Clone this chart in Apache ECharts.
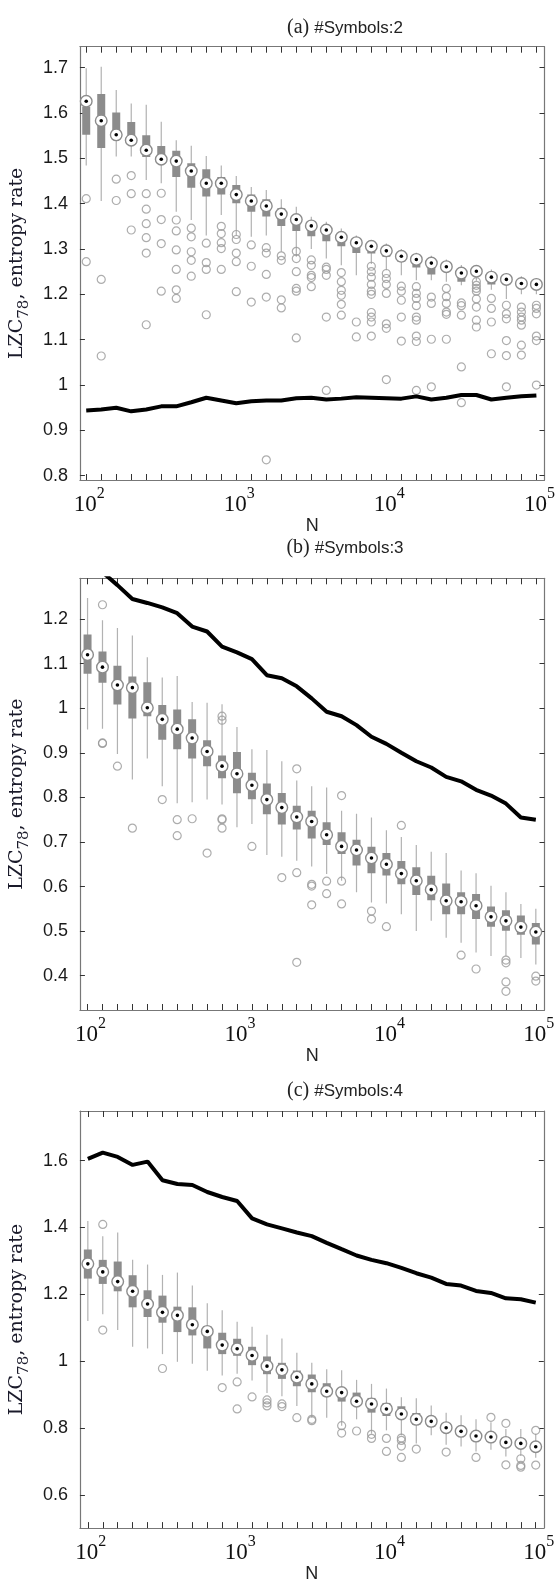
<!DOCTYPE html>
<html><head><meta charset="utf-8">
<script src="https://cdn.jsdelivr.net/npm/echarts@6/dist/echarts.min.js"></script>
<style>html,body{margin:0;padding:0;background:#fff}#c{width:558px;height:1584px}</style>
</head><body><div id="c"></div>
<script>
// x positions: log10(N)
const logN = [2.0,2.1,2.2,2.3,2.4,2.5,2.6,2.7,2.8,2.9,3.0,3.1,3.2,3.3,3.4,3.5,3.6,3.7,3.8,3.9,4.0,4.1,4.2,4.3,4.4,4.5,4.6,4.7,4.8,4.9,5.0];
const xLabelVals = [2,3,4,5];

// ---- panel (a) #Symbols:2 ----
const aMed  = [1.626,1.583,1.552,1.540,1.518,1.498,1.494,1.472,1.445,1.445,1.420,1.406,1.395,1.377,1.365,1.351,1.342,1.326,1.314,1.306,1.296,1.284,1.277,1.269,1.261,1.247,1.251,1.238,1.233,1.224,1.222];
const aQ3   = [1.614,1.642,1.601,1.580,1.551,1.527,1.517,1.489,1.476,1.459,1.441,1.420,1.410,1.390,1.375,1.360,1.350,1.335,1.320,1.310,1.300,1.290,1.280,1.275,1.265,1.255,1.260,1.245,1.240,1.232,1.230];
const aQ1   = [1.552,1.523,1.545,1.535,1.503,1.490,1.459,1.435,1.416,1.420,1.401,1.382,1.372,1.351,1.340,1.328,1.317,1.306,1.291,1.290,1.283,1.272,1.259,1.244,1.252,1.228,1.240,1.222,1.222,1.215,1.212];
const aHigh = [1.699,1.702,1.651,1.621,1.618,1.581,1.540,1.528,1.505,1.484,1.461,1.437,1.430,1.410,1.393,1.371,1.360,1.345,1.330,1.320,1.312,1.300,1.292,1.285,1.277,1.265,1.265,1.255,1.245,1.240,1.235];
const aLow  = [1.484,1.406,1.504,1.504,1.452,1.445,1.382,1.364,1.330,1.375,1.330,1.327,1.330,1.294,1.283,1.300,1.279,1.264,1.242,1.267,1.253,1.242,1.231,1.231,1.228,1.220,1.230,1.210,1.190,1.200,1.200];
const aLine = [0.944,0.946,0.950,0.942,0.946,0.953,0.953,0.962,0.972,0.966,0.960,0.964,0.966,0.966,0.971,0.972,0.968,0.970,0.973,0.972,0.971,0.970,0.975,0.968,0.972,0.978,0.978,0.968,0.972,0.975,0.977];
const aOut  = [[1.411,1.272],[1.233,1.064],[1.454,1.407],[1.462,1.422,1.342],[1.422,1.388,1.356,1.325,1.291,1.133],[1.423,1.365,1.312,1.207],[1.364,1.340,1.298,1.255,1.210,1.191],[1.346,1.327,1.294,1.275,1.240],[1.313,1.270,1.255,1.155],[1.350,1.334,1.314,1.301,1.255],[1.332,1.321,1.291,1.272,1.206],[1.309,1.262,1.183],[1.303,1.291,1.244,1.194,0.835],[1.285,1.275,1.188,1.170],[1.295,1.279,1.250,1.213,1.207,1.104],[1.276,1.264,1.242,1.237,1.217],[1.260,1.255,1.242,1.150,0.988],[1.248,1.228,1.209,1.198,1.178,1.154],[1.139,1.106],[1.262,1.250,1.238,1.222,1.207,1.200,1.160,1.150,1.139,1.108],[1.246,1.235,1.222,1.202,1.135,1.125,1.012],[1.218,1.207,1.187,1.150,1.097],[1.217,1.202,1.191,1.175,1.150,1.143,1.108,1.096,0.988],[1.194,1.180,1.101,0.996],[1.213,1.195,1.180,1.161,1.156,1.101],[1.181,1.175,1.154,1.040,0.961],[1.228,1.220,1.213,1.207,1.190,1.172,1.143,1.128],[1.191,1.169,1.139,1.069],[1.176,1.157,1.146,1.098,1.065,0.996],[1.172,1.161,1.150,1.143,1.132,1.088,1.066],[1.176,1.169,1.157,1.108,1.098,1.000]];
const aTicks = [0.8,0.9,1.0,1.1,1.2,1.3,1.4,1.5,1.6,1.7];

// ---- panel (b) #Symbols:3 ----
const bMed  = [1.120,1.092,1.052,1.046,1.001,0.975,0.953,0.933,0.903,0.870,0.853,0.827,0.795,0.777,0.756,0.746,0.716,0.690,0.682,0.664,0.650,0.629,0.613,0.593,0.568,0.566,0.557,0.532,0.523,0.509,0.498];
const bQ3   = [1.165,1.127,1.095,1.071,1.058,1.007,0.997,0.975,0.928,0.894,0.902,0.855,0.831,0.810,0.781,0.770,0.744,0.722,0.705,0.689,0.675,0.657,0.643,0.624,0.607,0.587,0.583,0.555,0.547,0.535,0.518];
const bQ1   = [1.077,1.057,1.008,0.977,0.982,0.929,0.908,0.887,0.870,0.843,0.809,0.796,0.762,0.739,0.728,0.708,0.693,0.673,0.647,0.630,0.625,0.605,0.581,0.569,0.538,0.538,0.527,0.510,0.501,0.492,0.470];
const bHigh = [1.247,1.197,1.180,1.163,1.114,1.069,1.072,1.014,1.012,1.009,0.958,0.908,0.906,0.881,0.838,0.825,0.822,0.770,0.763,0.755,0.726,0.711,0.693,0.678,0.675,0.636,0.630,0.602,0.587,0.561,0.550];
const bLow  = [0.952,0.954,0.897,0.840,0.887,0.825,0.787,0.789,0.795,0.784,0.733,0.740,0.671,0.667,0.658,0.645,0.628,0.613,0.587,0.564,0.562,0.538,0.500,0.523,0.485,0.474,0.452,0.444,0.444,0.440,0.425];
const bLine = [1.335,1.305,1.276,1.245,1.236,1.226,1.213,1.183,1.172,1.138,1.125,1.110,1.074,1.067,1.049,1.022,0.992,0.982,0.962,0.936,0.920,0.900,0.881,0.867,0.846,0.836,0.817,0.804,0.786,0.755,0.750];
const bOut  = [[],[1.232,0.922,0.921],[0.870],[0.731],[],[0.795],[0.750,0.714],[0.752],[0.675],[0.982,0.973,0.752,0.750,0.731],[],[0.690],[],[0.620],[0.864,0.631,0.430],[0.605,0.601,0.559],[0.612,0.584],[0.804,0.612,0.561],[],[0.545,0.527],[0.510],[0.737],[],[],[],[0.446],[0.415],[],[0.435,0.429,0.386,0.365],[],[0.399,0.388]];
const bTicks = [0.4,0.5,0.6,0.7,0.8,0.9,1.0,1.1,1.2];

// ---- panel (c) #Symbols:4 ----
const cMed  = [1.291,1.267,1.238,1.209,1.171,1.146,1.137,1.109,1.089,1.048,1.037,1.017,0.985,0.974,0.952,0.932,0.910,0.906,0.880,0.872,0.857,0.842,0.826,0.820,0.801,0.790,0.776,0.773,0.757,0.754,0.744];
const cQ3   = [1.334,1.303,1.298,1.257,1.212,1.196,1.163,1.161,1.105,1.085,1.067,1.043,1.014,0.995,0.972,0.960,0.934,0.918,0.906,0.890,0.875,0.865,0.845,0.836,0.812,0.800,0.786,0.783,0.766,0.762,0.752];
const cQ1   = [1.247,1.231,1.209,1.161,1.132,1.115,1.087,1.077,1.038,1.021,1.016,0.988,0.961,0.947,0.925,0.907,0.894,0.879,0.866,0.846,0.836,0.830,0.809,0.803,0.792,0.782,0.768,0.765,0.750,0.747,0.737];
const cHigh = [1.419,1.374,1.385,1.303,1.289,1.258,1.265,1.226,1.173,1.152,1.118,1.103,1.079,1.068,1.025,0.995,0.976,0.973,0.944,0.932,0.918,0.892,0.889,0.867,0.846,0.838,0.826,0.817,0.797,0.797,0.783];
const cLow  = [1.120,1.140,1.093,1.043,1.038,1.021,0.998,0.992,0.971,0.957,0.962,0.942,0.905,0.895,0.866,0.831,0.831,0.807,0.826,0.783,0.793,0.778,0.754,0.778,0.750,0.745,0.730,0.735,0.715,0.716,0.711];
const cLine = [1.605,1.624,1.611,1.587,1.597,1.541,1.530,1.527,1.506,1.491,1.479,1.427,1.409,1.397,1.385,1.374,1.354,1.335,1.316,1.303,1.293,1.279,1.263,1.250,1.231,1.226,1.210,1.204,1.188,1.185,1.175];
const cOut  = [[],[1.409,1.093],[],[],[],[0.978],[],[],[],[0.921],[0.938,0.857],[0.893],[0.884,0.875,0.866],[0.872,0.864],[0.831],[0.826,0.822],[],[0.807,0.785],[0.791],[0.781,0.769],[0.769,0.730],[0.770,0.763,0.746,0.712],[0.737],[],[0.728],[],[0.712],[0.832],[0.814,0.690],[0.708,0.688,0.683],[0.793,0.689]];
const cTicks = [0.6,0.8,1.0,1.2,1.4,1.6];

const titles = [['(a)','#Symbols:2'],['(b)','#Symbols:3'],['(c)','#Symbols:4']];

// ---- layout (pixels) ----
const layout = [
  {grid:{left:71.2,right:13.5,top:46.7,height:433.3}, x:[1.958,5.054], y:[0.7905,1.7463], titleTop:13},
  {grid:{left:68.7,right:13.5,top:578.3,height:431.7}, x:[1.949,5.058], y:[0.3231,1.2913], titleTop:533},
  {grid:{left:67.6,right:14.2,top:1111,height:431.7}, x:[1.947,5.054], y:[0.5006,1.7483], titleTop:1076}
];
const panels = [
  {med:aMed,q1:aQ1,q3:aQ3,low:aLow,high:aHigh,line:aLine,out:aOut,ticks:aTicks},
  {med:bMed,q1:bQ1,q3:bQ3,low:bLow,high:bHigh,line:bLine,out:bOut,ticks:bTicks},
  {med:cMed,q1:cQ1,q3:cQ3,low:cLow,high:cHigh,line:cLine,out:cOut,ticks:cTicks}
];

const SANS = "'Liberation Sans Narrow','Liberation Sans',Arial,sans-serif";
const SERIF = "'Liberation Serif','DejaVu Serif',serif";
const FRAME = '#777';
const TICK = '#333';

function renderBox(params, api){
  const x = api.value(0);
  const pLow = api.coord([x, api.value(1)]);
  const pQ1 = api.coord([x, api.value(2)]);
  const pMed = api.coord([x, api.value(3)]);
  const pQ3 = api.coord([x, api.value(4)]);
  const pHigh = api.coord([x, api.value(5)]);
  const w = 8;
  return {type:'group', children:[
    {type:'line', shape:{x1:pLow[0],y1:pLow[1],x2:pHigh[0],y2:pHigh[1]}, style:{stroke:'#b2b2b2', lineWidth:1.2}},
    {type:'rect', shape:{x:pQ3[0]-w/2, y:pQ3[1], width:w, height:pQ1[1]-pQ3[1]}, style:{fill:'#8c8c8c'}},
    {type:'circle', shape:{cx:pMed[0], cy:pMed[1], r:5.8}, style:{fill:'#fff', stroke:'#8c8c8c', lineWidth:1.4}},
    {type:'circle', shape:{cx:pMed[0], cy:pMed[1], r:1.8}, style:{fill:'#000'}}
  ]};
}

const option = {animation:false, backgroundColor:'#fff', title:[], grid:[], xAxis:[], yAxis:[], series:[]};

panels.forEach((p, gi) => {
  const L = layout[gi];
  option.grid.push(Object.assign({containLabel:false}, L.grid));
  option.title.push({
    text:'{p|' + titles[gi][0] + '} {t|' + titles[gi][1] + '}',
    left: 340, top: L.titleTop, textAlign:'center',
    textStyle:{fontWeight:'normal', rich:{
      p:{fontFamily:SERIF, fontSize:20, color:'#222', fontWeight:'normal'},
      t:{fontFamily:"'Liberation Sans',Arial,sans-serif", fontSize:17, color:'#222', fontWeight:'normal'}
    }}
  });
  // bottom x axis
  option.xAxis.push({
    type:'value', gridIndex:gi, position:'bottom', min:L.x[0], max:L.x[1],
    axisLine:{show:true, onZero:false, lineStyle:{color:FRAME, width:1.2}},
    axisTick:{show:true, inside:true, length:6, customValues:logN, lineStyle:{color:TICK, width:1}},
    splitLine:{show:false},
    axisLabel:{show:true, margin:6, customValues:xLabelVals,
      formatter: v => '{sp| }{b|10}{s|' + Math.round(v) + '}',
      rich:{
        sp:{width:6, fontSize:10},
        b:{fontFamily:SERIF, fontSize:23, color:'#111', lineHeight:30, verticalAlign:'bottom'},
        s:{fontFamily:SERIF, fontSize:16, color:'#111', verticalAlign:'top'}
      }},
    name:'N', nameLocation:'middle', nameGap:26,
    nameTextStyle:{fontFamily:SANS, fontSize:18, color:'#222'}
  });
  // top x axis (frame + ticks)
  option.xAxis.push({
    type:'value', gridIndex:gi, position:'top', min:L.x[0], max:L.x[1],
    axisLine:{show:true, onZero:false, lineStyle:{color:FRAME, width:1.2}},
    axisTick:{show:true, inside:true, length:6, customValues:logN, lineStyle:{color:TICK, width:1}},
    axisLabel:{show:false}, splitLine:{show:false}
  });
  // left y axis
  option.yAxis.push({
    type:'value', gridIndex:gi, position:'left', min:L.y[0], max:L.y[1],
    axisLine:{show:true, onZero:false, lineStyle:{color:FRAME, width:1.2}},
    axisTick:{show:true, inside:true, length:5, customValues:p.ticks, lineStyle:{color:TICK, width:1}},
    splitLine:{show:false},
    axisLabel:{show:true, margin:12, customValues:p.ticks,
      formatter: v => String(+(+v).toFixed(2)),
      fontFamily:SANS, fontSize:18, color:'#1a1a1a'},
    name:'{a|LZC}{sub|78}{a|, entropy rate}', nameLocation:'middle', nameRotate:90, nameGap:36,
    nameTextStyle:{rich:{
      a:{fontFamily:"'DejaVu Serif',serif", fontSize:19, color:'#1a1a2a', lineHeight:24, verticalAlign:'top'},
      sub:{fontFamily:"'DejaVu Serif',serif", fontSize:15, color:'#1a1a2a', verticalAlign:'bottom'}
    }}
  });
  // right y axis
  option.yAxis.push({
    type:'value', gridIndex:gi, position:'right', min:L.y[0], max:L.y[1],
    axisLine:{show:true, onZero:false, lineStyle:{color:FRAME, width:1.2}},
    axisTick:{show:true, inside:true, length:5, customValues:p.ticks, lineStyle:{color:TICK, width:1}},
    axisLabel:{show:false}, splitLine:{show:false}
  });
  const xi = gi*2, yi = gi*2;
  option.series.push({
    type:'custom', xAxisIndex:xi, yAxisIndex:yi, renderItem:renderBox, clip:true, z:2,
    encode:{x:0, y:[1,2,3,4,5]},
    data: logN.map((x,i)=>[x, p.low[i], p.q1[i], p.med[i], p.q3[i], p.high[i]])
  });
  const pts = [];
  p.out.forEach((arr,i)=>arr.forEach(v=>pts.push([logN[i], v])));
  option.series.push({
    type:'scatter', xAxisIndex:xi, yAxisIndex:yi, z:3, symbol:'circle', symbolSize:8,
    itemStyle:{color:'rgba(255,255,255,0)', borderColor:'#999', borderWidth:1.2},
    data: pts, silent:true
  });
  option.series.push({
    type:'line', xAxisIndex:xi, yAxisIndex:yi, z:4, showSymbol:false, symbol:'none', clip:true,
    lineStyle:{color:'#000', width:4}, data: logN.map((x,i)=>[x, p.line[i]])
  });
});

const chart = echarts.init(document.getElementById('c'), null, {renderer:'canvas'});
chart.setOption(option);
</script></body></html>
